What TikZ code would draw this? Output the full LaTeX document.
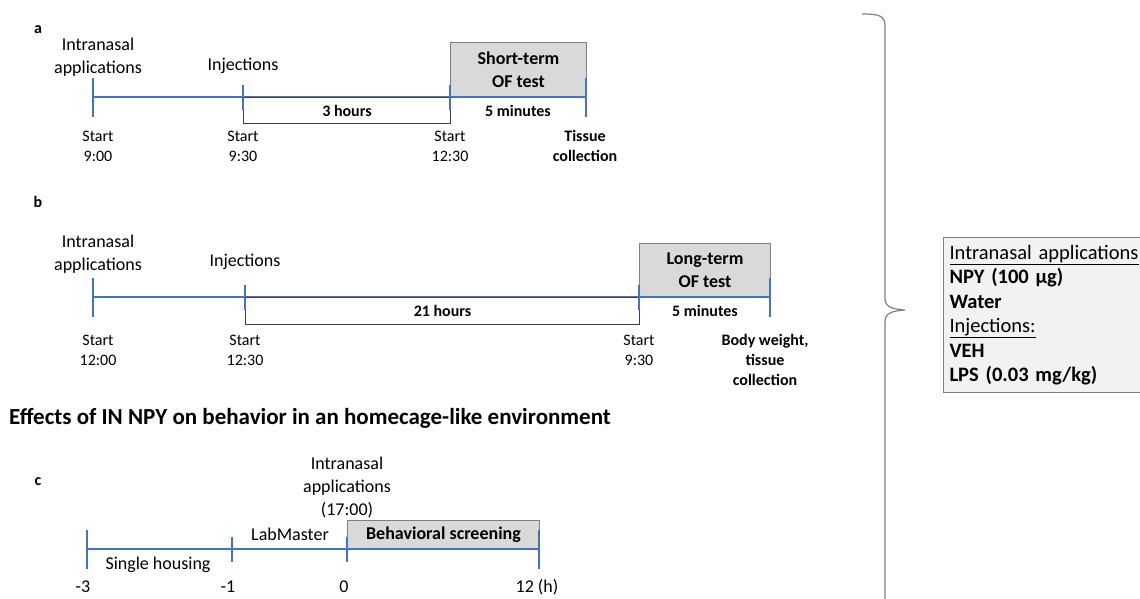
\documentclass[tikz,border=0pt]{standalone}
\usepackage{fontspec}
\setmainfont{Carlito}
\definecolor{tlblue}{HTML}{4472C4}
\definecolor{boxgray}{HTML}{D9D9D9}
\definecolor{leggray}{HTML}{F2F2F2}
\definecolor{edgegray}{HTML}{7F7F7F}
\tikzset{
  tline/.style={tlblue, line width=1.6pt},
  tick/.style={tlblue, line width=1.8pt},
  big/.style={font=\fontsize{18}{23}\selectfont, align=center, inner sep=0pt},
  small/.style={font=\fontsize{16}{20}\selectfont, align=center, inner sep=0pt},
  smallb/.style={small, font=\fontsize{16}{20}\selectfont\bfseries},
  panel/.style={font=\fontsize{16}{18}\selectfont\bfseries, inner sep=0pt},
  phase/.style={draw=edgegray, line width=1pt, fill=boxgray, align=center,
    font=\fontsize{18}{23}\selectfont\bfseries, inner sep=0pt},
  durbox/.style={draw=black!75, line width=1pt, fill=white, align=center,
    font=\fontsize{16}{20}\selectfont\bfseries, inner sep=0pt},
}
\begin{document}
\begin{tikzpicture}[x=1pt,y=-1pt]
\useasboundingbox (0,0) rectangle (1140,598);
\clip (0,0) rectangle (1140,598);
%%%% panel a
\node[panel] (pa) at (38,30) {a};
\coordinate (a0) at (93,97);
\coordinate (a1) at (243,97);
\coordinate (a2) at (450,97);
\coordinate (a3) at (586,97);
\draw[tline] (a0) -- (a3);
\node[phase, minimum width=136pt, minimum height=54pt, anchor=south west] (aof) at (a2) {Short-term\\OF test};
\node[durbox, minimum width=207pt, minimum height=26pt, anchor=north west] (a3h) at (a1) {3 hours};
\draw[tline] (a2) -- (a3);
\draw[tick] ([yshift=19pt]a0) -- ([yshift=-20pt]a0);
\draw[tick] ([yshift=12pt]a1) -- ([yshift=-13pt]a1);
\draw[tick] ([yshift=12pt]a2) -- ([yshift=-13pt]a2);
\draw[tick] ([yshift=19pt]a3) -- ([yshift=-20pt]a3);
\node[big] (ain) at (98,57) {Intranasal\\applications};
\node[big] (ainj) at (243,66) {Injections};
\node[smallb] (a5m) at (518,111) {5 minutes};
\node[small] (as0) at (98,146) {Start\\9:00};
\node[small] (as1) at (243,146) {Start\\9:30};
\node[small] (as2) at (450,146) {Start\\12:30};
\node[smallb] (ats) at (585,146) {Tissue\\collection};
%%%% panel b
\node[panel] (pb) at (38,202) {b};
\coordinate (b0) at (93,297);
\coordinate (b1) at (245,297);
\coordinate (b2) at (639,297);
\coordinate (b3) at (770,297);
\draw[tline] (b0) -- (b3);
\node[phase, minimum width=131pt, minimum height=53pt, anchor=south west] (bof) at (b2) {Long-term\\OF test};
\node[durbox, minimum width=394pt, minimum height=27pt, anchor=north west] (b21h) at (b1) {21 hours};
\draw[tline] (b2) -- (b3);
\draw[tick] ([yshift=19pt]b0) -- ([yshift=-20pt]b0);
\draw[tick] ([yshift=12pt]b1) -- ([yshift=-13pt]b1);
\draw[tick] ([yshift=12pt]b2) -- ([yshift=-13pt]b2);
\draw[tick] ([yshift=19pt]b3) -- ([yshift=-20pt]b3);
\node[big] (bin) at (98,254) {Intranasal\\applications};
\node[big] (binj) at (245,262) {Injections};
\node[smallb] (b5m) at (705,311) {5 minutes};
\node[small] (bs0) at (98,350) {Start\\12:00};
\node[small] (bs1) at (245,350) {Start\\12:30};
\node[small] (bs2) at (639,350) {Start\\9:30};
\node[smallb] (bbw) at (765,360) {Body weight,\\tissue\\collection};
%%%% panel c
\node[font=\fontsize{23}{27}\selectfont\bfseries, anchor=west, inner sep=0pt] (title) at (9,418) {Effects of IN NPY on behavior in an homecage-like environment};
\node[panel] (pc) at (38,482) {c};
\coordinate (c0) at (87,549);
\coordinate (c1) at (232,549);
\coordinate (c2) at (347,549);
\coordinate (c3) at (539,549);
\draw[tline] (c0) -- (c3);
\node[phase, minimum width=192pt, minimum height=28pt, anchor=south west] (cbs) at (c2) {Behavioral screening};
\draw[tline] (c2) -- (c3);
\draw[tick] ([yshift=19pt]c0) -- ([yshift=-20pt]c0);
\draw[tick] ([yshift=12pt]c1) -- ([yshift=-13pt]c1);
\draw[tick] ([yshift=12pt]c2) -- ([yshift=-13pt]c2);
\draw[tick] ([yshift=19pt]c3) -- ([yshift=-20pt]c3);
\node[big] (cin) at (347,487) {Intranasal\\applications\\(17:00)};
\node[big] (clab) at (290,534) {LabMaster};
\node[big] (csh) at (158,565) {Single housing};
\node[big] (cm3) at (83,587) {-3};
\node[big] (cm1) at (228,587) {-1};
\node[big] (cz) at (344,587) {0};
\node[big] (c12) at (537,587) {12 (h)};
%%%% brace and legend
\draw[edgegray, line width=1.2pt] (862,14) .. controls (880,14) and (885,16) .. (885,26) -- (885,298)
  .. controls (885,306) and (890,309) .. (905,310) .. controls (890,311) and (885,314) .. (885,322) -- (885,600);
\node[draw=edgegray, line width=1pt, fill=leggray, anchor=north west, text width=200pt,
  minimum height=155pt, inner xsep=6pt, inner ysep=3pt, align=left,
  font=\fontsize{20.5}{24.5}\selectfont] (leg) at (943,237)
  {\underline{Intranasal applications}\\ \textbf{NPY (100 µg)}\\ \textbf{Water}\\
   \underline{Injections:}\\ \textbf{VEH}\\ \textbf{LPS (0.03 mg/kg)}};
\end{tikzpicture}
\end{document}
